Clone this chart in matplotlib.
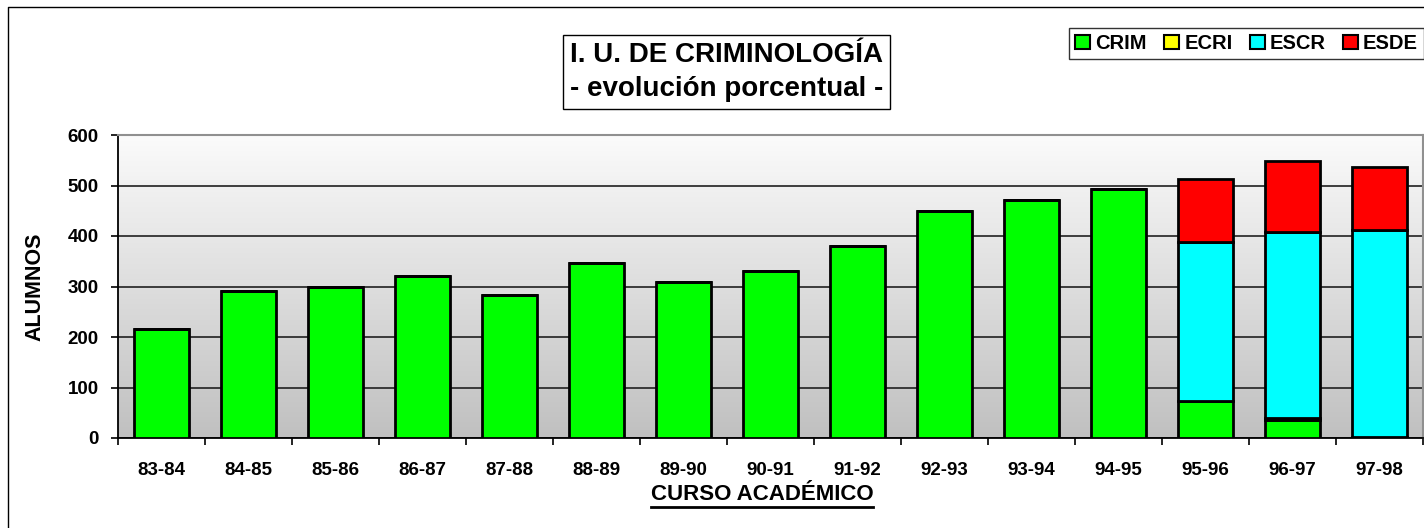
import numpy as np
import matplotlib
matplotlib.use("Agg")
import matplotlib.pyplot as plt
from matplotlib.patches import Patch
from matplotlib.lines import Line2D
from matplotlib.colors import LinearSegmentedColormap

plt.rcParams['font.family'] = ['Liberation Sans', 'DejaVu Sans']
plt.rcParams['font.weight'] = 'bold'

# ---- datos
cursos = ["83-84", "84-85", "85-86", "86-87", "87-88", "88-89", "89-90", "90-91",
          "91-92", "92-93", "93-94", "94-95", "95-96", "96-97", "97-98"]
crim = [215, 291, 300, 321, 284, 346, 309, 330, 381, 449, 472, 493, 73, 35, 1]
ecri = [0, 0, 0, 0, 0, 0, 0, 0, 0, 0, 0, 0, 0, 4, 0]
escr = [0, 0, 0, 0, 0, 0, 0, 0, 0, 0, 0, 0, 315, 368, 410]
esde = [0, 0, 0, 0, 0, 0, 0, 0, 0, 0, 0, 0, 124, 142, 126]

series = [("CRIM", crim, "#00ff00"), ("ECRI", ecri, "#ffff00"),
          ("ESCR", escr, "#00ffff"), ("ESDE", esde, "#ff0000")]

W, H = 1424, 528
fig = plt.figure(figsize=(W / 100, H / 100), dpi=100)
fig.patch.set_facecolor("white")

# area del grafico (pixeles de la imagen)
x0, x1, ytop, ybot = 118, 1423, 135, 438
ax = fig.add_axes([x0 / W, 1 - ybot / H, (x1 - x0) / W, (ybot - ytop) / H])

n = len(cursos)
x = np.arange(n)

# fondo degradado (blanco arriba, gris abajo)
grad = np.linspace(1, 0, 256).reshape(-1, 1)
cmap = LinearSegmentedColormap.from_list("fondo", ["#fbfbfb", "#c0c0c0"])
ax.imshow(grad, cmap=cmap, aspect="auto", extent=(-0.5, n - 0.5, 0, 600),
          zorder=0, origin="lower")
ax.set_xlim(-0.5, n - 0.5)
ax.set_ylim(0, 600)

ax.set_yticks(range(0, 601, 100))
ax.yaxis.grid(True, color="#202020", linewidth=1.2, zorder=1)
ax.set_axisbelow(True)

bottom = np.zeros(n)
for nombre, vals, col in series:
    vals = np.array(vals, dtype=float)
    ax.bar(x, vals, 0.63, bottom=bottom, color=col, edgecolor="black",
           linewidth=2, zorder=3)
    bottom += vals

# ejes
for s in ["top", "right"]:
    ax.spines[s].set_color("#909090")
    ax.spines[s].set_linewidth(1.5)
ax.spines["left"].set_linewidth(1.3)
ax.spines["bottom"].set_linewidth(1.3)

ax.set_xticks(x)
ax.set_xticklabels(cursos, fontsize=13.5, fontweight="bold")
ax.set_xticks(np.arange(-0.5, n, 1), minor=True)
ax.tick_params(axis="x", which="major", length=0, pad=17)
ax.tick_params(axis="x", which="minor", length=5, width=1.2, direction="out")
ax.tick_params(axis="y", length=5, width=1.2, pad=9, labelsize=13.5)
for t in ax.get_yticklabels():
    t.set_fontweight("bold")

ax.set_ylabel("ALUMNOS", fontsize=15.5, fontweight="bold", labelpad=16)

# titulo
fig.text(570 / W, 1 - 72 / H, "I. U. DE CRIMINOLOGÍA\n- evolución porcentual -",
         fontsize=20, fontweight="bold", ha="left", va="center", linespacing=1.4,
         bbox=dict(boxstyle="square,pad=0.25", facecolor="white",
                   edgecolor="black", linewidth=1))

# leyenda
handles = [Patch(facecolor=c, edgecolor="black", linewidth=1.5, label=nm)
           for nm, _, c in series]
fig.legend(handles=handles, loc="upper right", bbox_to_anchor=(1.0, 1 - 28 / H),
           ncol=4, frameon=True, fancybox=False, edgecolor="black",
           prop={"weight": "bold", "size": 14.5}, handlelength=0.75,
           handleheight=0.75, handletextpad=0.25, columnspacing=0.85,
           borderpad=0.3, borderaxespad=0)

# titulo eje x subrayado
tx = fig.text(762 / W, 1 - 495 / H, "CURSO ACADÉMICO", fontsize=16,
              fontweight="bold", ha="center", va="center")
fig.canvas.draw()
bb = tx.get_window_extent()
fig.add_artist(Line2D([bb.x0 / W, bb.x1 / W], [(bb.y0 - 1) / H] * 2,
                      color="black", linewidth=2, transform=fig.transFigure))

# marco de la figura
fig.add_artist(Line2D([8 / W, 8 / W, 1.0], [0, 1 - 7 / H, 1 - 7 / H],
                      color="black", linewidth=1, transform=fig.transFigure))

fig.savefig("out.png", dpi=100)
